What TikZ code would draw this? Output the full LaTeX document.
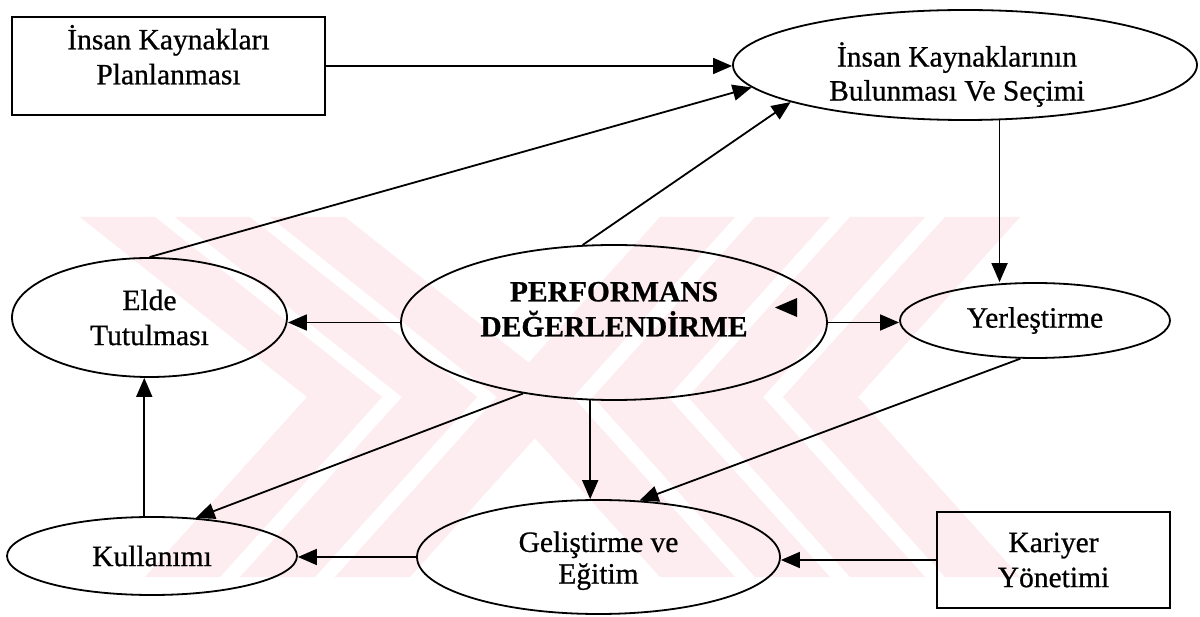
\documentclass[tikz,border=0pt]{standalone}
\usepackage{fontspec}
\setmainfont{Liberation Serif}[FakeBold=0.7]
\usetikzlibrary{arrows.meta,shapes.geometric}
\definecolor{wmpink}{RGB}{253,236,240}

\begin{document}
\begin{tikzpicture}[x=1pt,y=-1pt,
  every node/.style={font=\fontsize{29.5pt}{35pt}\selectfont},
  ell/.style={draw, ellipse, line width=1.8pt, inner sep=0pt, align=center},
  rbox/.style={draw, rectangle, line width=1.8pt, inner sep=0pt, align=center},
  txt/.style={inner sep=0pt, align=center},
  arr/.style={line width=1.8pt, -{Triangle[length=19pt,width=16pt]}}]

% canvas
\fill[white] (0,0) rectangle (1200,617);
\useasboundingbox (0,0) rectangle (1200,617);

% pale striped emblem in the background
\begin{scope}
  \clip (80,217) rectangle (1020,577);
  \foreach \x in {80,175,270}
    \fill[wmpink] (\x,217) -- ++(75,0) -- ++(227,180) -- ++(-162,180)
                  -- ++(-75,0) -- ++(162,-180) -- cycle;
  \foreach \x in {1020,925,830,735}
    \fill[wmpink] (\x,217) -- ++(-75,0) -- ++(-162,180) -- ++(162,180)
                  -- ++(75,0) -- ++(-162,-180) -- cycle;
\end{scope}

% boxes and ellipses
\node[rbox, minimum width=313pt, minimum height=98pt] (plan) at (168.5,66) {};
\node[txt] (planT) at (168.5,54.8) {İnsan Kaynakları\\Planlanması};

\node[ell, minimum width=464pt, minimum height=110pt] (sel) at (965,65) {};
\node[txt, font=\fontsize{29.5pt}{34pt}\selectfont] (selT) at (957,74.5)
  {İnsan Kaynaklarının\\Bulunması Ve Seçimi};

\node[ell, minimum width=275pt, minimum height=119pt] (elde) at (149.5,317.5)
  {Elde\\Tutulması};

\node[ell, minimum width=426pt, minimum height=155pt] (perf) at (614,322.5) {};
\node[txt, font=\fontsize{29.5pt}{35pt}\selectfont\bfseries] (perfT) at (614,309.3)
  {PERFORMANS\\DEĞERLENDİRME};

\node[ell, minimum width=270pt, minimum height=75pt] (yer) at (1035,320.5)
  {Yerleştirme};

\node[ell, minimum width=290pt, minimum height=78pt] (kul) at (152,556)
  {Kullanımı};

\node[ell, minimum width=363pt, minimum height=114pt] (gel) at (598.5,557) {};
\node[txt, font=\fontsize{29.5pt}{31.7pt}\selectfont] (gelT) at (598.5,560.7)
  {Geliştirme ve\\Eğitim};

\node[rbox, minimum width=233pt, minimum height=96pt] (kar) at (1053.5,560)
  {Kariyer\\Yönetimi};

% connectors
\draw[arr] (plan.east) -- (plan.east -| sel.west);
\draw[arr] (elde.north) -- (sel.186.8);
\draw[arr] (perf.112.4) -- (sel.192.5);
\draw[arr] (sel.-58.8) -- (sel.-58.8 |- yer.north);
\draw[arr] (perf.west) -- (perf.west -| elde.east);
\draw[arr] (perf.east) -- (perf.east -| yer.west);
\draw[arr] (perf.218.5) -- (kul.41.5);
\draw[arr] (perf.253.5) -- (perf.253.5 |- gel.north);
\draw[arr] (yer.249.7) -- (gel.54.5);
\draw[arr] (kul.101.6) -- (kul.101.6 |- elde.south);
\draw[arr] (gel.west) -- (gel.west -| kul.east);
\draw[arr] (kar.west) -- (kar.west -| gel.east);

% loose arrowhead inside the central ellipse
\fill (775,307.5) -- (797,298) -- (797,317) -- cycle;

\end{tikzpicture}
\end{document}
